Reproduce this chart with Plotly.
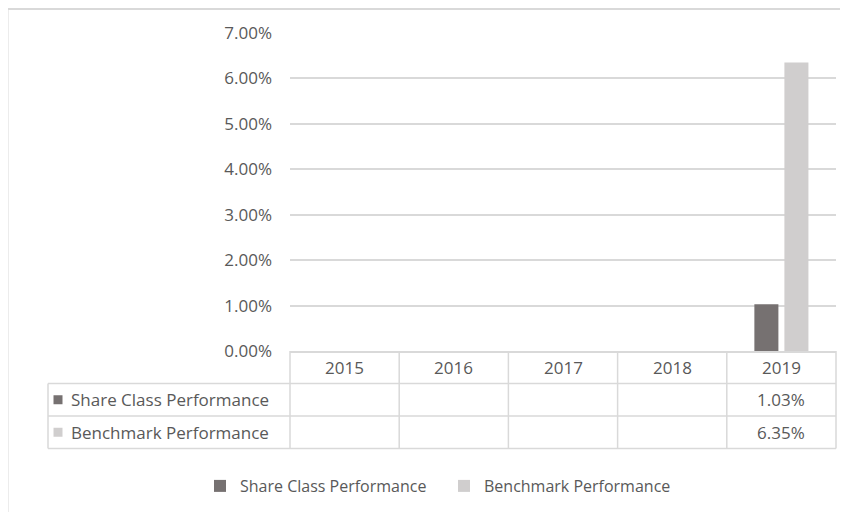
import plotly.graph_objects as go

# ---------------- data ----------------
years = ["2015", "2016", "2017", "2018", "2019"]
series_names = ["Share Class Performance", "Benchmark Performance"]
share_class = [None, None, None, None, 1.03]
benchmark = [None, None, None, None, 6.35]
series_values = [share_class, benchmark]
series_colors = ["#767171", "#D0CECE"]
y_ticks = [0, 1, 2, 3, 4, 5, 6, 7]

# ---------------- layout constants ----------------
W, H = 848, 512
OFF = 8  # page body margin: screen px = figure px + OFF
L, R, T, B = 290 - OFF, 836 - OFF, 33 - OFF, 351 - OFF  # plot area (figure px)
FONT = "Open Sans"
FS = 17
FS_LEG = 16
TXT = "#595959"
LINE = "#D9D9D9"


def px(x):
    """screen x pixel -> paper x"""
    return (x - OFF - L) / (R - L)


def py(y):
    """screen y pixel -> paper y"""
    return (B - (y - OFF)) / (B - T)


fig = go.Figure()
for name, vals, col in zip(series_names, series_values, series_colors):
    fig.add_trace(go.Bar(x=list(range(len(years))), y=vals, name=name,
                         marker=dict(color=col, line=dict(width=0)), hoverinfo="skip"))

shapes = []
annotations = []

# outer chart border
shapes.append(dict(type="rect", xref="paper", yref="paper",
                   x0=px(7.5), x1=px(870), y0=py(9), y1=py(540),
                   line=dict(color=LINE, width=2), layer="below"))

# data table rows (screen px)
row_edges = [351, 383.5, 416, 448.5]
row_centers = [(row_edges[i] + row_edges[i + 1]) / 2 for i in range(3)]

for ye in row_edges[1:]:
    shapes.append(dict(type="line", xref="paper", yref="paper",
                       x0=px(48), x1=1, y0=py(ye), y1=py(ye),
                       line=dict(color=LINE, width=1.5)))
shapes.append(dict(type="line", xref="paper", yref="paper",
                   x0=px(48), x1=px(48), y0=py(row_edges[1]), y1=py(row_edges[-1]),
                   line=dict(color=LINE, width=1.5)))
for xe in (0, 1):
    shapes.append(dict(type="line", xref="paper", yref="paper",
                       x0=xe, x1=xe, y0=0, y1=py(row_edges[-1]),
                       line=dict(color=LINE, width=1.5)))
for i in range(len(years) - 1):
    shapes.append(dict(type="line", xref="x", yref="paper",
                       x0=i + 0.5, x1=i + 0.5, y0=0, y1=py(row_edges[-1]),
                       line=dict(color=LINE, width=1.5)))

# header row: years
for i, yr in enumerate(years):
    annotations.append(dict(x=i, xref="x", y=py(row_centers[0]), yref="paper",
                            text=yr, showarrow=False, xanchor="center", yanchor="middle",
                            font=dict(family=FONT, size=FS, color=TXT)))

# series rows
for r, (name, vals, col) in enumerate(zip(series_names, series_values, series_colors)):
    yc = row_centers[r + 1]
    shapes.append(dict(type="rect", xref="paper", yref="paper",
                       x0=px(53.5), x1=px(62.5), y0=py(yc - 4.5), y1=py(yc + 4.5),
                       fillcolor=col, line=dict(width=0)))
    annotations.append(dict(x=px(69), xref="paper", y=py(yc), yref="paper",
                            text=name, showarrow=False, xanchor="left", yanchor="middle",
                            font=dict(family=FONT, size=FS, color=TXT)))
    for i, v in enumerate(vals):
        if v is not None:
            annotations.append(dict(x=i, xref="x", y=py(yc), yref="paper",
                                    text=f"{v:.2f}%", showarrow=False,
                                    xanchor="center", yanchor="middle",
                                    font=dict(family=FONT, size=FS, color=TXT)))

fig.update_layout(
    width=W, height=H,
    margin=dict(l=L, r=W - R, t=T, b=H - B, pad=0, autoexpand=False),
    paper_bgcolor="white", plot_bgcolor="white",
    font=dict(family=FONT, size=FS, color=TXT),
    barmode="group", bargap=0.45, bargroupgap=0.2,
    showlegend=True,
    legend=dict(orientation="h", xref="container", yref="container",
                x=(200 - OFF) / W, xanchor="left", y=(H - (486 - OFF)) / H, yanchor="middle",
                entrywidth=199, entrywidthmode="pixels",
                font=dict(family=FONT, size=FS_LEG, color=TXT), bgcolor="rgba(0,0,0,0)",
                traceorder="normal"),
    xaxis=dict(range=[-0.5, len(years) - 0.5], showticklabels=False, ticks="",
               showgrid=False, zeroline=False, showline=True, linecolor=LINE, linewidth=1.5,
               fixedrange=True),
    yaxis=dict(range=[0, 7], tickvals=y_ticks, ticktext=[f"{t:.2f}%" for t in y_ticks],
               showgrid=True, gridcolor=LINE, gridwidth=1.5, zeroline=False, showline=False,
               ticks="", ticklabelstandoff=17, tickfont=dict(family=FONT, size=FS, color=TXT),
               fixedrange=True),
    shapes=shapes, annotations=annotations,
)

fig.write_html("out.html")
